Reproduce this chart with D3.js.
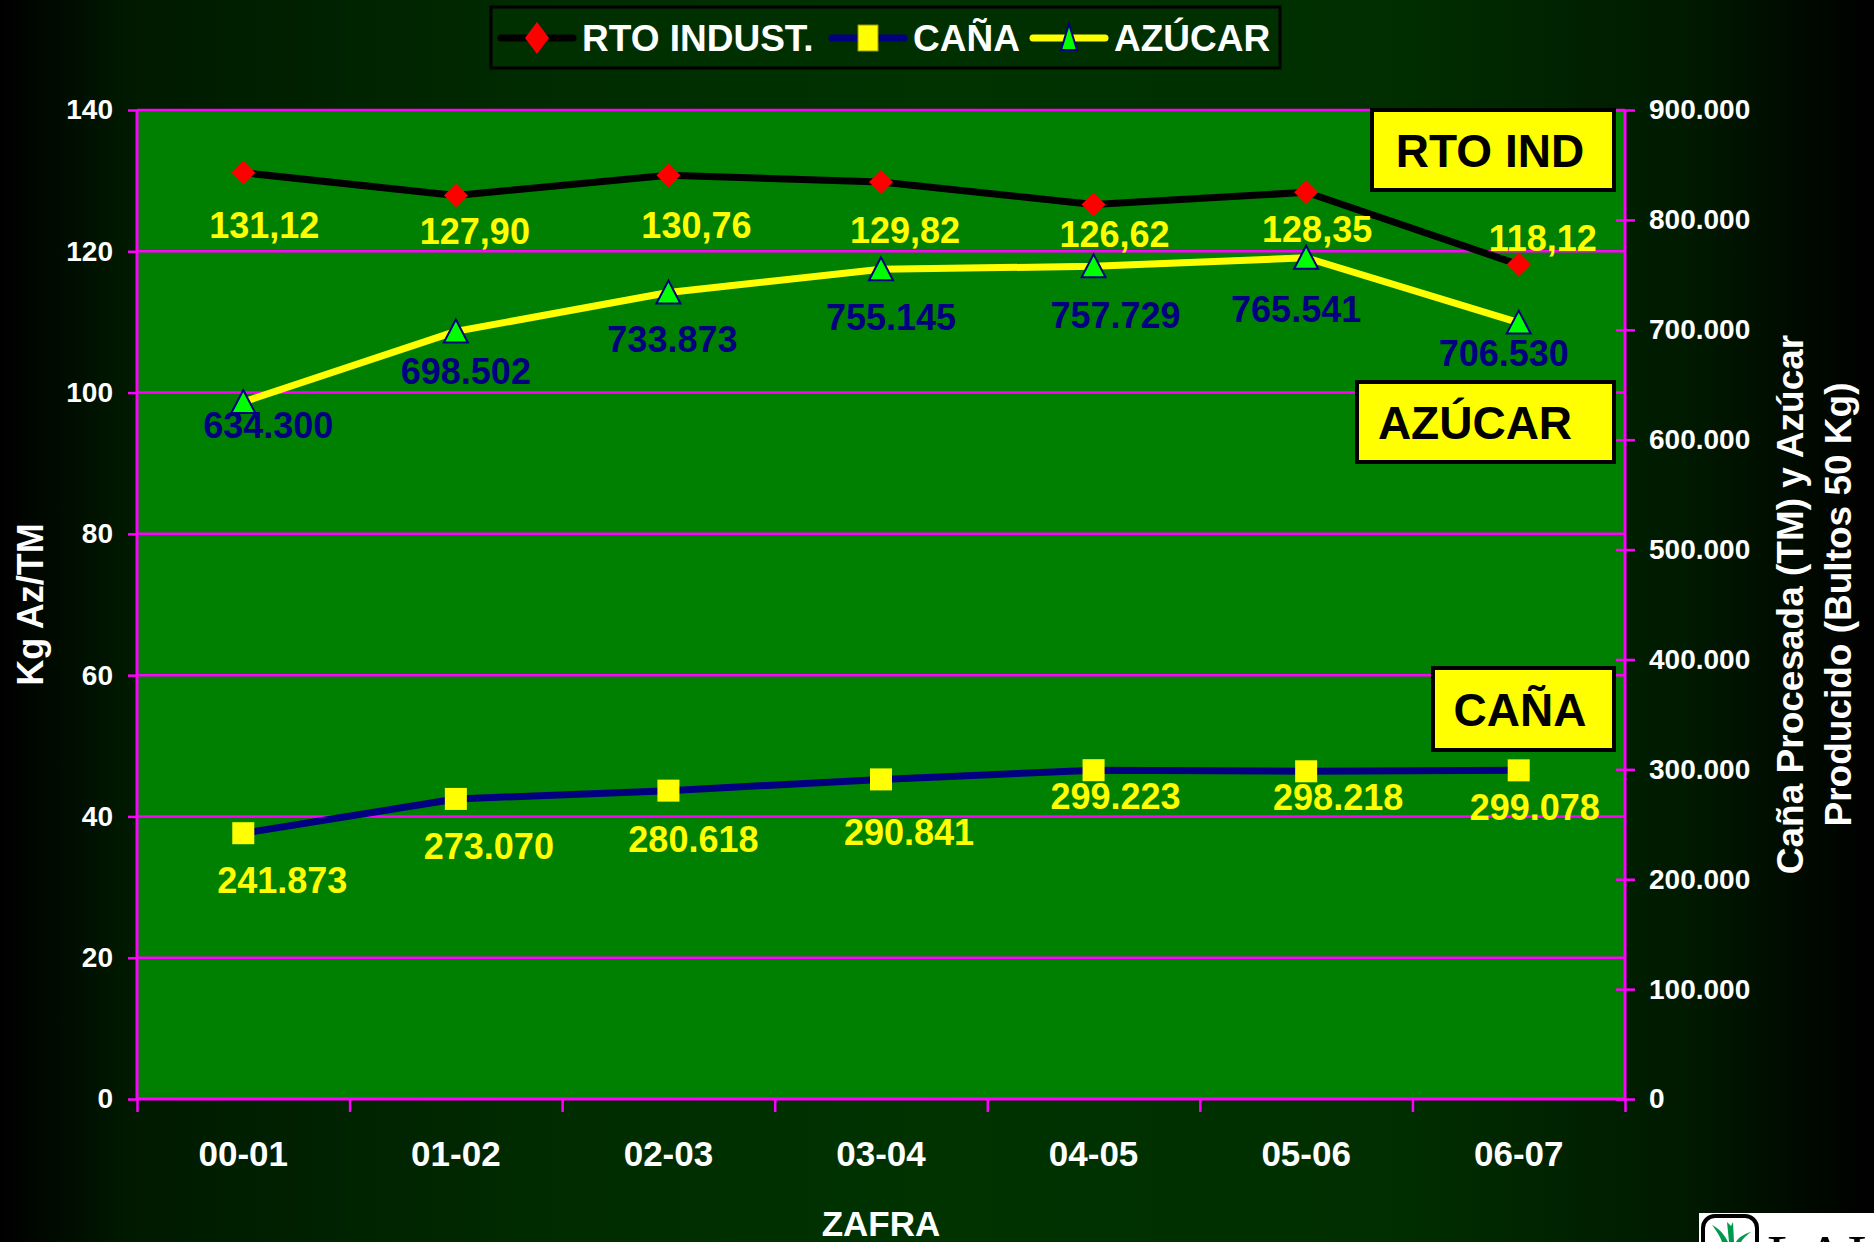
<!DOCTYPE html>
<html>
  <head>
    <meta http-equiv="Content-Type" content="text/html;charset=utf-8"/>
    <script src="https://cdn.jsdelivr.net/npm/d3@7"></script>
    <style>
      body { margin: 0; background: #000; }
      text { font-family: "Liberation Sans", Arial, sans-serif; font-weight: bold; }
    </style>
  </head>
  <body>
    <script type="text/javascript">

// data
var zafras = ["00-01", "01-02", "02-03", "03-04", "04-05", "05-06", "06-07"];
var rtoIndust = [131.12, 127.90, 130.76, 129.82, 126.62, 128.35, 118.12];
var cana = [241873, 273070, 280618, 290841, 299223, 298218, 299078];
var azucar = [634300, 698502, 733873, 755145, 757729, 765541, 706530];
var leftTicks = [0, 20, 40, 60, 80, 100, 120, 140];
var rightTicks = [0, 100000, 200000, 300000, 400000, 500000, 600000, 700000, 800000, 900000];

// hand placed label offsets (as in the original slide)
var rtoOff = [[21, 52], [19, 36], [28, 50], [24, 48], [21, 30], [11, 37], [24, -27]];
var azuOff = [[25, 23], [10, 40], [4, 46], [10, 48], [22, 49], [-10, 51], [-15, 30]];
var canaOff = [[39, 47], [33, 47], [25, 48], [28, 53], [22, 26], [32, 26], [16, 37]];

var W = 1874, H = 1242;
var pLeft = 137, pRight = 1625, pTop = 110, pBottom = 1099;

var es = d3.formatLocale({decimal: ",", thousands: ".", grouping: [3], currency: ["", ""]});
var fmtRto = es.format(".2f"), fmtBig = es.format(",");

var svg = d3.select("body").append("svg")
  .attr("width", W)
  .attr("height", H);

var defs = svg.append("defs");
var bg = defs.append("linearGradient").attr("id", "bg");
[[0, "#000000"], [0.07, "#001a00"], [0.3, "#002c00"], [0.5, "#003300"], [0.75, "#002e00"], [0.9, "#001a00"], [1, "#000000"]]
  .forEach(function(s) { bg.append("stop").attr("offset", s[0]).attr("stop-color", s[1]); });
svg.append("rect").attr("width", W).attr("height", H).attr("fill", "url(#bg)");

var x = d3.scaleBand().domain(zafras).range([pLeft, pRight]);
var xEdge = d3.scaleLinear().domain([0, zafras.length]).range([pLeft, pRight]);
var yL = d3.scaleLinear().domain([0, 140]).range([pBottom, pTop]);
var yR = d3.scaleLinear().domain([0, 900000]).range([pBottom, pTop]);
var cx = function(d, i) { return x(zafras[i]) + x.bandwidth() / 2; };

// plot area
svg.append("rect")
  .attr("x", pLeft).attr("y", pTop)
  .attr("width", pRight - pLeft).attr("height", pBottom - pTop)
  .attr("fill", "#008000");

svg.append("g").selectAll("line")
  .data(leftTicks.slice(1))
  .join("line")
  .attr("x1", pLeft).attr("x2", pRight)
  .attr("y1", function(d) { return yL(d); })
  .attr("y2", function(d) { return yL(d); })
  .attr("stroke", "#ff00ff").attr("stroke-width", 2.5);

// axes
var axL = svg.append("g")
  .attr("transform", "translate(" + pLeft + ",0)")
  .call(d3.axisLeft(yL).tickValues(leftTicks).tickSize(9).tickPadding(15));
var axR = svg.append("g")
  .attr("transform", "translate(" + pRight + ",0)")
  .call(d3.axisRight(yR).tickValues(rightTicks).tickSize(10).tickPadding(14)
    .tickFormat(function(d) { return fmtBig(d); }));
axR.selectAll(".tick line").attr("x1", -9);
var axB = svg.append("g")
  .attr("transform", "translate(0," + pBottom + ")")
  .call(d3.axisBottom(xEdge).ticks(zafras.length).tickSize(13).tickFormat(""));
var axB2 = svg.append("g")
  .attr("transform", "translate(0," + pBottom + ")")
  .call(d3.axisBottom(x).tickSize(0).tickPadding(42));

[axL, axR, axB, axB2].forEach(function(a) {
  a.select(".domain").attr("stroke", "#ff00ff").attr("stroke-width", 3);
  a.selectAll(".tick line").attr("stroke", "#ff00ff").attr("stroke-width", 2.5);
  a.selectAll("text").attr("fill", "#fff").style("font-size", "28px");
});
axB2.select(".domain").remove();
axB2.selectAll("text").style("font-size", "35px");
axL.select(".domain").attr("d", "M0," + pTop + "V" + pBottom);
axR.select(".domain").attr("d", "M0," + pTop + "V" + pBottom);
axB.select(".domain").attr("d", "M" + pLeft + ",0H" + pRight);

// lines
function drawLine(vals, y, color) {
  svg.append("path")
    .datum(vals)
    .attr("fill", "none")
    .attr("stroke", color)
    .attr("stroke-width", 7)
    .attr("stroke-linejoin", "round")
    .attr("d", d3.line().x(cx).y(function(d) { return y(d); }));
}
drawLine(rtoIndust, yL, "#000000");
drawLine(azucar, yR, "#ffff00");
drawLine(cana, yR, "#000080");

var diamond = "M0,-12L12,0L0,12L-12,0Z";
var triangle = "M0,-12L12,11L-12,11Z";

svg.append("g").selectAll("path").data(rtoIndust).join("path")
  .attr("d", diamond).attr("fill", "#ff0000")
  .attr("transform", function(d, i) { return "translate(" + cx(d, i) + "," + yL(d) + ")"; });
svg.append("g").selectAll("path").data(azucar).join("path")
  .attr("d", triangle).attr("fill", "#00ff00").attr("stroke", "#000080").attr("stroke-width", 2)
  .attr("transform", function(d, i) { return "translate(" + cx(d, i) + "," + yR(d) + ")"; });
svg.append("g").selectAll("rect").data(cana).join("rect")
  .attr("x", function(d, i) { return cx(d, i) - 11; })
  .attr("y", function(d) { return yR(d) - 11; })
  .attr("width", 22).attr("height", 22)
  .attr("fill", "#ffff00");

// data labels
function labels(vals, y, off, fmt, color) {
  svg.append("g").selectAll("text").data(vals).join("text")
    .attr("x", function(d, i) { return cx(d, i) + off[i][0]; })
    .attr("y", function(d, i) { return y(d) + off[i][1]; })
    .attr("dy", "0.36em")
    .attr("text-anchor", "middle")
    .attr("fill", color)
    .style("font-size", "36px")
    .text(fmt);
}
labels(rtoIndust, yL, rtoOff, fmtRto, "#ffff00");
labels(azucar, yR, azuOff, fmtBig, "#000080");
labels(cana, yR, canaOff, fmtBig, "#ffff00");

// callout boxes
function callout(x0, y0, x1, y1, txt, tx) {
  svg.append("rect")
    .attr("x", x0).attr("y", y0).attr("width", x1 - x0).attr("height", y1 - y0)
    .attr("fill", "#ffff00").attr("stroke", "#000").attr("stroke-width", 4);
  svg.append("text")
    .attr("x", tx).attr("y", (y0 + y1) / 2).attr("dy", "0.36em")
    .attr("text-anchor", "middle").attr("fill", "#000")
    .style("font-size", "46px").text(txt);
}
callout(1372, 110, 1614, 190, "RTO IND", 1490);
callout(1357, 382, 1614, 462, "AZÚCAR", 1475);
callout(1433, 668, 1614, 750, "CAÑA", 1520);

// axis titles
var midY = (pTop + pBottom) / 2;
svg.append("text")
  .attr("transform", "translate(30," + midY + ") rotate(-90)")
  .attr("dy", "0.36em").attr("text-anchor", "middle").attr("fill", "#fff")
  .style("font-size", "36px").text("Kg Az/TM");
svg.append("text")
  .attr("transform", "translate(1790," + midY + ") rotate(-90)")
  .attr("dy", "0.36em").attr("text-anchor", "middle").attr("fill", "#fff")
  .style("font-size", "37px").text("Caña Procesada (TM) y Azúcar");
svg.append("text")
  .attr("transform", "translate(1838," + midY + ") rotate(-90)")
  .attr("dy", "0.36em").attr("text-anchor", "middle").attr("fill", "#fff")
  .style("font-size", "37px").text("Producido (Bultos 50 Kg)");
svg.append("text")
  .attr("x", (pLeft + pRight) / 2).attr("y", 1223).attr("dy", "0.36em")
  .attr("text-anchor", "middle").attr("fill", "#fff")
  .style("font-size", "35px").text("ZAFRA");

// legend
var lg = svg.append("g");
lg.append("rect").attr("x", 491).attr("y", 7).attr("width", 789).attr("height", 61)
  .attr("fill", "#003000").attr("stroke", "#000").attr("stroke-width", 3);
var items = [
  {name: "RTO INDUST.", x0: 501, color: "#000000", mark: "d"},
  {name: "CAÑA", x0: 832, color: "#000080", mark: "s"},
  {name: "AZÚCAR", x0: 1033, color: "#ffff00", mark: "t"}
];
items.forEach(function(it) {
  var mx = it.x0 + 36, my = 38;
  lg.append("line").attr("x1", it.x0).attr("x2", it.x0 + 72).attr("y1", my).attr("y2", my)
    .attr("stroke", it.color).attr("stroke-width", 7).attr("stroke-linecap", "round");
  if (it.mark === "d") {
    lg.append("path").attr("d", "M0,-16L12,0L0,16L-12,0Z").attr("fill", "#ff0000")
      .attr("transform", "translate(" + mx + "," + my + ")");
  } else if (it.mark === "s") {
    lg.append("rect").attr("x", mx - 10).attr("y", my - 13).attr("width", 20).attr("height", 26)
      .attr("fill", "#ffff00").attr("stroke", "#999900").attr("stroke-width", 1);
  } else {
    lg.append("path").attr("d", "M0,-14L8,12L-8,12Z").attr("fill", "#00ff00")
      .attr("stroke", "#000080").attr("stroke-width", 2)
      .attr("transform", "translate(" + mx + "," + my + ")");
  }
  lg.append("text").attr("x", it.x0 + 81).attr("y", my).attr("dy", "0.36em")
    .attr("fill", "#fff").style("font-size", "37px").text(it.name);
});

// logo corner
var logo = svg.append("g");
logo.append("rect").attr("x", 1699).attr("y", 1213).attr("width", 180).attr("height", 60).attr("fill", "#fff");
logo.append("rect").attr("x", 1703).attr("y", 1216).attr("width", 54).attr("height", 60).attr("rx", 12)
  .attr("fill", "#fff").attr("stroke", "#000").attr("stroke-width", 4);
logo.append("path").attr("d", "M1712,1225 C1722,1230 1726,1238 1728,1242 L1722,1242 C1720,1236 1716,1230 1712,1225Z").attr("fill", "#00994c");
logo.append("path").attr("d", "M1727,1222 L1731,1226 L1733,1222 L1734,1242 L1729,1242 Z").attr("fill", "#00994c");
logo.append("path").attr("d", "M1751,1232 C1744,1234 1738,1238 1736,1242 L1741,1242 C1743,1238 1747,1235 1751,1232Z").attr("fill", "#00994c");
logo.append("text").attr("x", 1767).attr("y", 1276).attr("fill", "#000")
  .style("font-family", "'Liberation Serif', serif").style("font-weight", "normal")
  .style("font-size", "60px").text("LAIC");

    </script>
  </body>
</html>
